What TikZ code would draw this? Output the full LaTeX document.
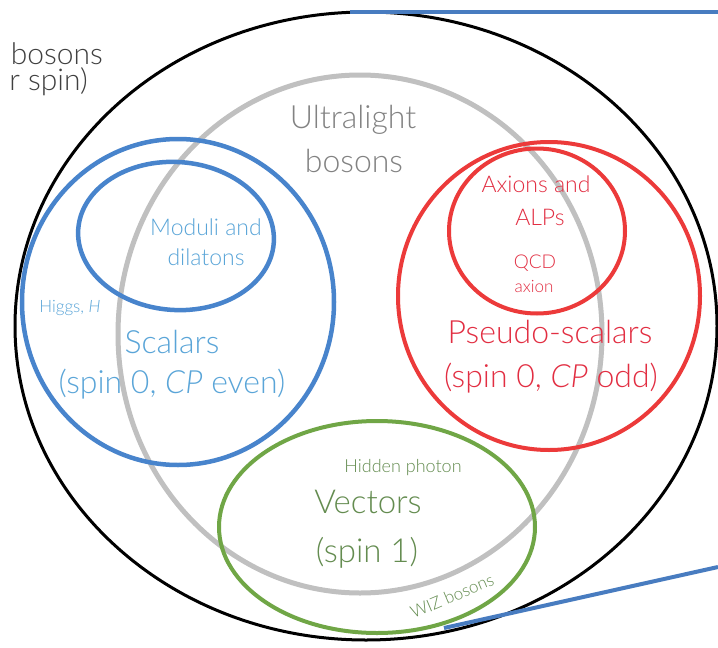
\documentclass[tikz,border=0pt]{standalone}
\usepackage{fontspec}
\setmainfont{Lato}[UprightFont={* Light}, ItalicFont={* Light Italic}]
\usetikzlibrary{shapes.geometric}
\definecolor{grayring}{RGB}{192,192,192}
\definecolor{graytext}{RGB}{130,130,130}
\definecolor{bluering}{RGB}{72,132,204}
\definecolor{bluetext}{RGB}{90,165,216}
\definecolor{redring}{RGB}{236,58,58}
\definecolor{redtext}{RGB}{226,46,66}
\definecolor{greenring}{RGB}{112,166,70}
\definecolor{greentext}{RGB}{100,140,80}
\definecolor{linkblue}{RGB}{72,124,192}
\newcommand\fsz[1]{\fontsize{#1}{#1}\selectfont}
\begin{document}
\begin{tikzpicture}[x=1pt,y=-1pt,
  set/.style={draw, ellipse, inner sep=0pt},
  lbl/.style={inner sep=0pt, anchor=base},
  link/.style={draw=linkblue, line width=4pt}]
\useasboundingbox (0,0) rectangle (718,648);
\fill[white] (0,0) rectangle (718,648);
% sets
\node[set, draw=black, line width=3pt, minimum width=702pt, minimum height=628pt] (allb) at (366,326) {};
\node[set, draw=grayring, line width=5pt, minimum width=484pt, minimum height=518pt] (ultra) at (360,334) {};
\node[set, draw=bluering, line width=4.5pt, minimum width=312pt, minimum height=326pt] (scal) at (178,302) {};
\node[set, draw=bluering, line width=4.5pt, minimum width=196pt, minimum height=148pt, rotate=-4] (modu) at (176,236) {};
\node[set, draw=redring, line width=4pt, minimum width=302pt, minimum height=308pt] (pseu) at (549,296) {};
\node[set, draw=redring, line width=4pt, minimum width=176pt, minimum height=165pt] (axio) at (537,231) {};
\node[set, draw=greenring, line width=4pt, minimum width=316pt, minimum height=212pt] (vect) at (377,527) {};
% links
\coordinate (t1) at (350,12);
\coordinate (t2) at (718,12);
\coordinate (b1) at (444,628);
\coordinate (b2) at (718,567);
\draw[link] (t1) -- (t2);
\draw[link] (b1) -- (b2);
% labels
\node[lbl, anchor=base east, text=black!75, font=\fsz{30}] (lb1) at (103,64) {bosons};
\node[lbl, anchor=base east, text=black!75, font=\fsz{30}] (lb2) at (88,90) {r spin)};
\node[lbl, text=graytext, font=\fsz{32}] (u1) at (353,128) {Ultralight};
\node[lbl, text=graytext, font=\fsz{32}] (u2) at (354,172) {bosons};
\node[lbl, text=bluetext, font=\fsz{23}] (m1) at (206,235) {Moduli and};
\node[lbl, text=bluetext, font=\fsz{23}] (m2) at (206,265) {dilatons};
\node[lbl, text=bluetext, font=\fsz{17}] (hig) at (70,312) {Higgs, \textit{H}};
\node[lbl, text=bluetext, font=\fsz{32}] (s1) at (172,353) {Scalars};
\node[lbl, text=bluetext, font=\fsz{32}] (s2) at (172,393) {(spin 0, \textit{CP} even)};
\node[lbl, text=redtext, font=\fsz{23}] (a1) at (536,192) {Axions and};
\node[lbl, text=redtext, font=\fsz{23}] (a2) at (540,225) {ALPs};
\node[lbl, text=redtext, font=\fsz{19}] (q1) at (535,268) {QCD};
\node[lbl, text=redtext, font=\fsz{17}] (q2) at (534,292) {axion};
\node[lbl, text=redtext, font=\fsz{32}] (p1) at (550,343) {Pseudo-scalars};
\node[lbl, text=redtext, font=\fsz{32}] (p2) at (551,387) {(spin 0, \textit{CP} odd)};
\node[lbl, text=greentext, font=\fsz{18}] (hp) at (403,472) {Hidden photon};
\node[lbl, text=greentext, font=\fsz{33}] (v1) at (368,513) {Vectors};
\node[lbl, text=greentext, font=\fsz{33}] (v2) at (367,562) {(spin 1)};
\node[inner sep=0pt, text=greentext, font=\fsz{17}, rotate=23] (wz) at (452,596) {WIZ bosons};
\end{tikzpicture}
\end{document}
